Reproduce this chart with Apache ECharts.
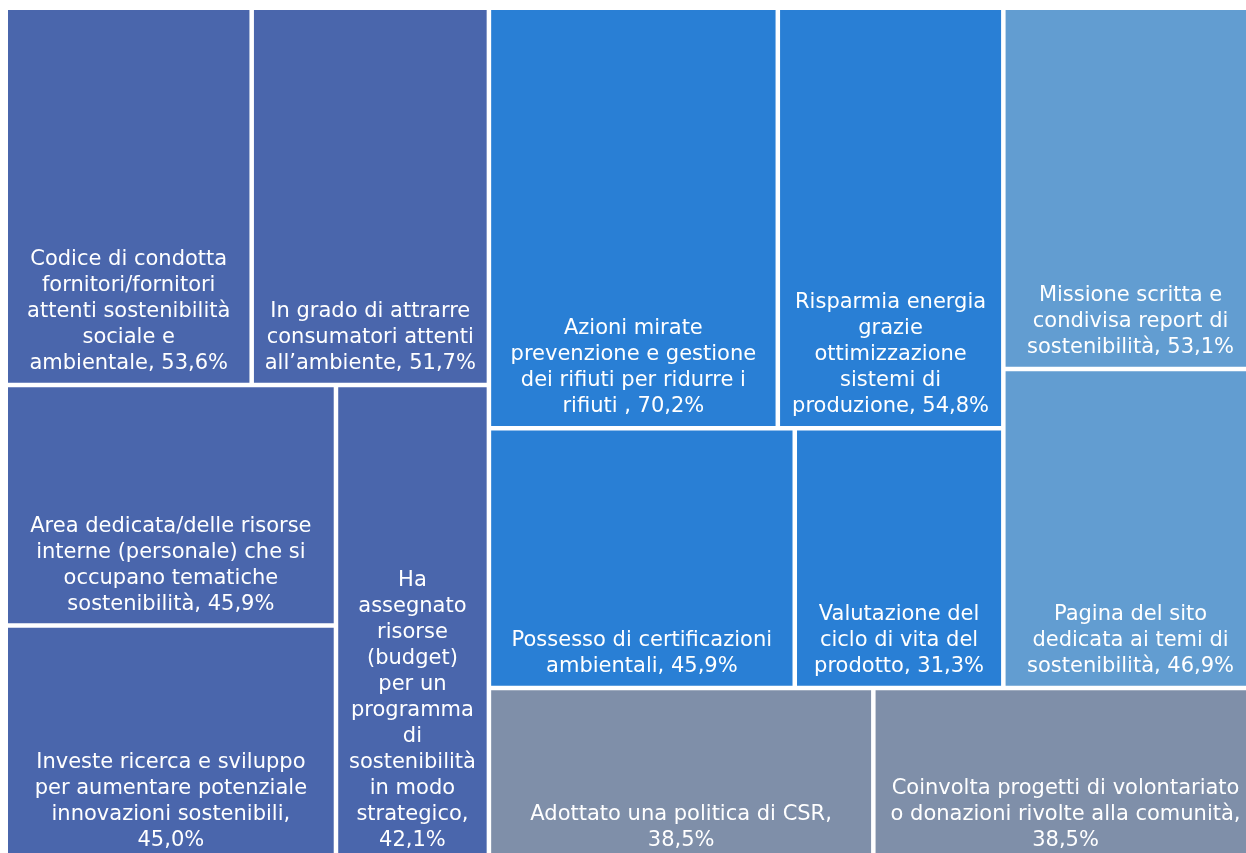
<!DOCTYPE html>
<html>
<head>
<meta charset="utf-8">
<script src="https://cdn.jsdelivr.net/npm/echarts@6/dist/echarts.min.js"></script>
<style>
  html, body { margin: 0; padding: 0; background: #fff; }
  #chart { width: 1246px; height: 853px; }
</style>
</head>
<body>
<div id="chart"></div>
<script>
// etichette con gli a capo come nel grafico originale (il valore viene aggiunto dopo)
const names = [
  "Codice di condotta\nfornitori/fornitori\nattenti sostenibilità\nsociale e\nambientale, ",
  "In grado di attrarre\nconsumatori attenti\nall’ambiente, ",
  "Area dedicata/delle risorse\ninterne (personale) che si\noccupano tematiche\nsostenibilità, ",
  "Investe ricerca e sviluppo\nper aumentare potenziale\ninnovazioni sostenibili,\n",
  "Ha\nassegnato\nrisorse\n(budget)\nper un\nprogramma\ndi\nsostenibilità\nin modo\nstrategico,\n",
  "Azioni mirate\nprevenzione e gestione\ndei rifiuti per ridurre i\nrifiuti , ",
  "Risparmia energia\ngrazie\nottimizzazione\nsistemi di\nproduzione, ",
  "Possesso di certificazioni\nambientali, ",
  "Valutazione del\nciclo di vita del\nprodotto, ",
  "Missione scritta e\ncondivisa report di\nsostenibilità, ",
  "Pagina del sito\ndedicata ai temi di\nsostenibilità, ",
  "Adottato una politica di CSR,\n",
  "Coinvolta progetti di volontariato\no donazioni rivolte alla comunità,\n"
];
const values = [53.6, 51.7, 45.9, 45.0, 42.1, 70.2, 54.8, 45.9, 31.3, 53.1, 46.9, 38.5, 38.5];
const groups = [0, 0, 0, 0, 0, 1, 1, 1, 1, 2, 2, 3, 3];
const groupColors = ["#4A66AC", "#297FD5", "#629DD1", "#7F8FA9"];

// annidamento degli indici: serve solo a riprodurre la disposizione dei riquadri
const arrangement = [
  [[0, 1], [[2, 3], 4]],
  [[[[5, 6], [7, 8]], [9, 10]], [11, 12]]
];

function build(node) {
  if (Array.isArray(node)) {
    return { children: node.map(build) };
  }
  return {
    name: names[node],
    value: values[node],
    itemStyle: { color: groupColors[groups[node]], borderWidth: 2.25, borderColor: "#fff" }
  };
}

document.addEventListener("DOMContentLoaded", function () {
  var myChart = echarts.init(document.getElementById("chart"));

  var option = {
    animation: false,
    series: [
      {
        type: "treemap",
        left: 5.75,
        top: 7.75,
        width: 1252,
        height: 853.6,
        roam: false,
        nodeClick: false,
        breadcrumb: { show: false },
        sort: null,
        squareRatio: 1,
        itemStyle: { borderWidth: 0, gapWidth: 0, borderColor: "#fff" },
        label: {
          show: true,
          position: "insideBottom",
          distance: 6,
          padding: 0,
          align: "center",
          color: "#fff",
          fontFamily: 'Verdana, "DejaVu Sans", sans-serif',
          fontSize: 21,
          lineHeight: 26,
          overflow: "none",
          formatter: function (p) {
            return p.name + p.value.toFixed(1).replace(".", ",") + "%";
          }
        },
        emphasis: { disabled: true },
        data: arrangement.map(build)
      }
    ]
  };

  myChart.setOption(option);
});
</script>
</body>
</html>
